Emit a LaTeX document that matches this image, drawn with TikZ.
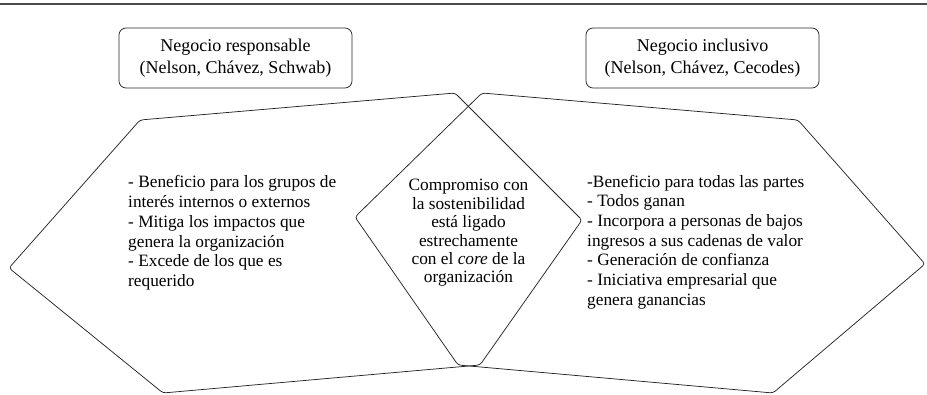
\documentclass[tikz,border=0pt]{standalone}
\usepackage{fontspec}
\setmainfont{Liberation Serif}
\begin{document}
\begin{tikzpicture}[x=1pt,y=-1pt,
  hexa/.style={draw=black!85, line width=0.75pt, rounded corners=3pt},
  hdr/.style={draw=black!85, line width=0.75pt, rounded corners=7pt, minimum width=233pt, minimum height=60pt, align=center, inner sep=0pt, font=\fontsize{18}{21.5}\selectfont},
  body/.style={align=left, inner sep=0pt, anchor=west, font=\fontsize{17.3}{19.7}\selectfont},
  mid/.style={align=center, inner sep=0pt, font=\fontsize{17.3}{18.4}\selectfont}]
\useasboundingbox (0,0) rectangle (927,395);
\draw[line width=1.3pt, black!70] (0,4) -- (927,4);
% hexagons
\draw[hexa] (140,120) -- (455,93) -- (582,220) -- (480,365) -- (163,393) -- (9,268) -- cycle;
\draw[hexa] (482,93) -- (798,120) -- (925,264) -- (773,393) -- (458,365) -- (355,217) -- cycle;
% header boxes
\node[hdr] (resp) at (235.5,58) {Negocio responsable\\(Nelson, Chávez, Schwab)};
\node[hdr] (incl) at (702.5,58) {Negocio inclusivo\\(Nelson, Chávez, Cecodes)};
% texts
\node[body] (izq) at (128,233) {- Beneficio para los grupos de\\interés internos o externos\\- Mitiga los impactos que\\genera la organización\\- Excede de los que es\\requerido};
\node[mid] (centro) at (468.5,233) {Compromiso con\\la sostenibilidad\\está ligado\\estrechamente\\con el \textit{core} de la\\organización};
\node[body] (der) at (587,242) {-Beneficio para todas las partes\\- Todos ganan\\- Incorpora a personas de bajos\\ingresos a sus cadenas de valor\\- Generación de confianza\\- Iniciativa empresarial que\\genera ganancias};
\end{tikzpicture}
\end{document}
